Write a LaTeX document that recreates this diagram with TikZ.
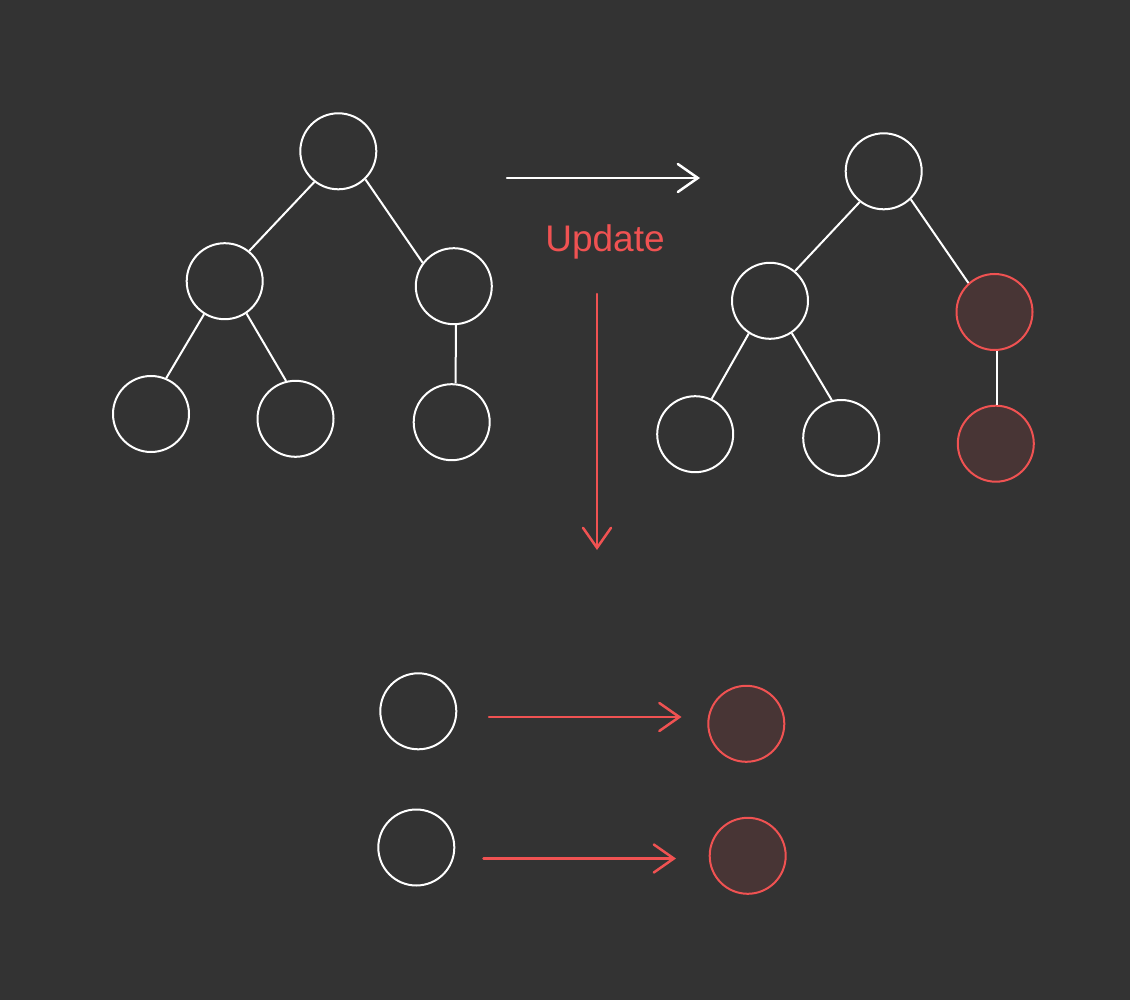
\documentclass[tikz,border=0pt]{standalone}
\usepackage{fontspec}
\setmainfont{Liberation Sans}
\usetikzlibrary{arrows.meta}
\definecolor{bg}{HTML}{333333}
\definecolor{hl}{HTML}{F05252}
\definecolor{hlfill}{HTML}{483535}
\begin{document}
\begin{tikzpicture}[x=1pt,y=-1pt,
  wnode/.style={circle,draw=white,line width=2pt,minimum size=76pt,inner sep=0pt},
  rnode/.style={circle,draw=hl,fill=hlfill,line width=2pt,minimum size=76pt,inner sep=0pt},
  edge/.style={draw=white,line width=2pt},
  warrow/.style={draw=white,line width=2.5pt,line cap=round,-{Straight Barb[length=20pt,width=28pt,line cap=round]}},
  rarrow/.style={draw=hl,line width=2.5pt,line cap=round,-{Straight Barb[length=20pt,width=28pt,line cap=round]}}]
\fill[bg] (0,0) rectangle (1130,1000);
\useasboundingbox (0,0) rectangle (1130,1000);
% left tree
\node[wnode] (a) at (338.3,151.3) {};
\node[wnode] (b) at (224.7,281.2) {};
\node[wnode] (c) at (453.8,286.2) {};
\node[wnode] (d) at (151,414) {};
\node[wnode] (e) at (295.5,418.8) {};
\node[wnode] (f) at (451.7,422.2) {};
\draw[edge] (a.232.6) -- (b.51);
\draw[edge] (a.314) -- (c.143);
\draw[edge] (b.238) -- (d.67);
\draw[edge] (b.304.6) -- (e.104);
\draw[edge] ([xshift=2pt]c.south) -- ([xshift=4pt]f.north);
% right tree
\node[wnode] (ra) at (883.7,171.3) {};
\node[wnode] (rb) at (770,300.8) {};
\node[rnode] (rc) at (994.5,312) {};
\node[wnode] (rd) at (695.2,434.2) {};
\node[wnode] (re) at (841.2,438) {};
\node[rnode] (rf) at (995.8,443.7) {};
\draw[edge] (ra.232.2) -- (rb.50.8);
\draw[edge] (ra.314.3) -- (rc.132.4);
\draw[edge] (rb.237.6) -- (rd.65.3);
\draw[edge] (rb.304.9) -- (re.104.3);
\draw[edge] ([xshift=2.2pt]rc.south) -- ([xshift=0.9pt]rf.north);
% arrows
\coordinate (h1) at (507,178);
\coordinate (h2) at (700,178);
\draw[warrow] (h1) -- (h2);
\node[text=hl,font=\fontsize{37}{40}\selectfont,anchor=base] (upd) at (605,252) {Update};
\coordinate (v1) at (597,294);
\coordinate (v2) at (597,550);
\draw[rarrow] (v1) -- (v2);
% bottom
\node[wnode] (p1) at (418.3,711.3) {};
\node[wnode] (p2) at (416.3,847.5) {};
\node[rnode] (q1) at (746.3,723.8) {};
\node[rnode] (q2) at (747.7,855.8) {};
\coordinate (s1) at (489,717);
\coordinate (t1) at (681.5,717);
\coordinate (s2) at (483.5,858.5);
\coordinate (t2) at (676,858.5);
\draw[rarrow] (s1) -- (t1);
\draw[rarrow] (s2) -- (t2);
\end{tikzpicture}
\end{document}
